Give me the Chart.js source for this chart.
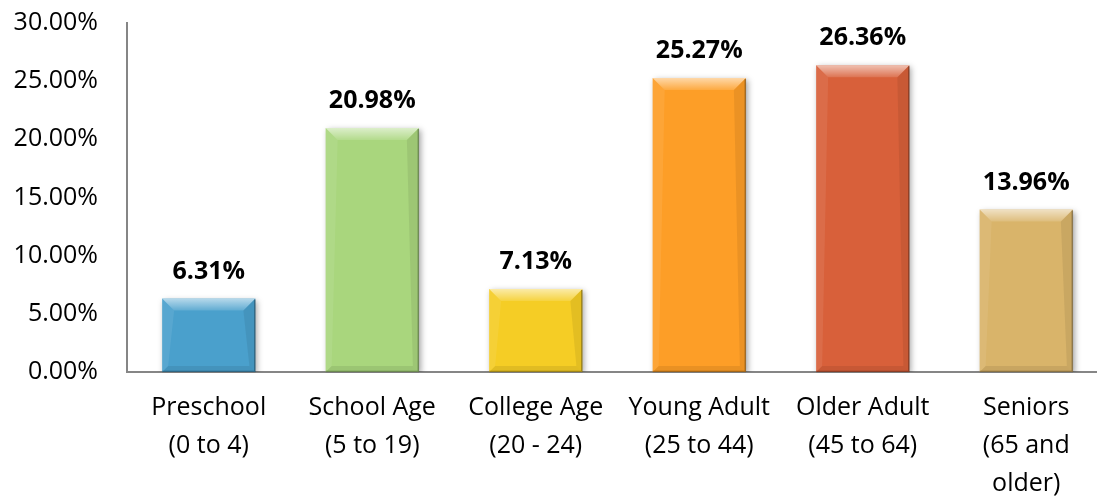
<!DOCTYPE html>
<html>
<head>
<meta charset="utf-8">
<script src="https://cdn.jsdelivr.net/npm/chart.js@4.4.1/dist/chart.umd.min.js"></script>
<style>
    html, body { margin: 0; padding: 0; background: #fff; overflow: hidden; }
    canvas { display: block; }
</style>
</head>
<body>
<canvas id="chart-age" width="1110" height="501"></canvas>
<script>
// Распределение населения по возрастным группам
const categories = [
    ['Preschool', '(0 to 4)'],
    ['School Age', '(5 to 19)'],
    ['College Age', '(20 - 24)'],
    ['Young Adult', '(25 to 44)'],
    ['Older Adult', '(45 to 64)'],
    ['Seniors', '(65 and', 'older)']
];
const shares = [6.31, 20.98, 7.13, 25.27, 26.36, 13.96];
const barColors = ['#4aa0cc', '#a9d67d', '#f5cd25', '#fd9e27', '#d8603a', '#d9b46a'];
const yTicks = [0, 5, 10, 15, 20, 25, 30];

const FONT = '"Open Sans", "Noto Sans", sans-serif';

function formatPct(v) {
    return v.toFixed(2) + '%';
}

// тень под столбцами
const shadowPlugin = {
    id: 'barShadow',
    beforeDatasetsDraw(chart) {
        const ctx = chart.ctx;
        ctx.save();
        ctx.shadowColor = 'rgba(0, 0, 0, 0.35)';
        ctx.shadowBlur = 6;
        ctx.shadowOffsetX = 2;
        ctx.shadowOffsetY = 2;
    },
    afterDatasetsDraw(chart) {
        chart.ctx.restore();
    }
};

// фаска (bevel) и подписи значений
const bevelPlugin = {
    id: 'bevel',
    afterDatasetsDraw(chart) {
        const ctx = chart.ctx;
        const meta = chart.getDatasetMeta(0);
        meta.data.forEach((bar, i) => {
            const { x, y, base, width } = bar.getProps(['x', 'y', 'base', 'width'], true);
            const l = x - width / 2, r = x + width / 2, t = y, b = base;
            const bv = Math.min(12, (b - t) / 3);
            const sv = 6;
            ctx.save();
            // верх
            const g = ctx.createLinearGradient(0, t, 0, t + bv);
            g.addColorStop(0, 'rgba(255,255,255,0.6)');
            g.addColorStop(1, 'rgba(255,255,255,0.12)');
            ctx.fillStyle = g;
            ctx.beginPath();
            ctx.moveTo(l, t); ctx.lineTo(r, t); ctx.lineTo(r - bv, t + bv); ctx.lineTo(l + bv, t + bv);
            ctx.closePath(); ctx.fill();
            // левая грань
            ctx.fillStyle = 'rgba(255,255,255,0.08)';
            ctx.beginPath();
            ctx.moveTo(l, t); ctx.lineTo(l + bv, t + bv); ctx.lineTo(l + sv, b - sv); ctx.lineTo(l, b);
            ctx.closePath(); ctx.fill();
            // правая грань
            ctx.fillStyle = 'rgba(0,0,0,0.07)';
            ctx.beginPath();
            ctx.moveTo(r, t); ctx.lineTo(r - bv, t + bv); ctx.lineTo(r - sv, b - sv); ctx.lineTo(r, b);
            ctx.closePath(); ctx.fill();
            // низ
            ctx.fillStyle = 'rgba(0,0,0,0.08)';
            ctx.beginPath();
            ctx.moveTo(l, b); ctx.lineTo(r, b); ctx.lineTo(r - sv, b - sv); ctx.lineTo(l + sv, b - sv);
            ctx.closePath(); ctx.fill();
            // тёмные кромки справа и снизу
            ctx.strokeStyle = 'rgba(0,0,0,0.3)';
            ctx.lineWidth = 1.5;
            ctx.beginPath();
            ctx.moveTo(r - 0.5, t + 1); ctx.lineTo(r - 0.5, b - 0.5); ctx.lineTo(l, b - 0.5);
            ctx.stroke();
            ctx.restore();

            ctx.save();
            ctx.font = 'bold 25px ' + FONT;
            ctx.fillStyle = '#000';
            ctx.textAlign = 'center';
            ctx.textBaseline = 'alphabetic';
            ctx.fillText(formatPct(shares[i]), x, t - 20);
            ctx.restore();
        });
    }
};

const ctxAge = document.getElementById('chart-age');
new Chart(ctxAge, {
    type: 'bar',
    data: {
        labels: categories,
        datasets: [{
            data: shares,
            backgroundColor: barColors,
            borderWidth: 0,
            barPercentage: 0.57,
            categoryPercentage: 1
        }]
    },
    options: {
        responsive: false,
        animation: false,
        layout: { padding: { top: 23, right: 2, bottom: 0, left: 0 } },
        plugins: { legend: { display: false }, tooltip: { enabled: false } },
        scales: {
            x: {
                grid: { display: false, drawTicks: false },
                border: { display: true, color: '#868686', width: 2 },
                ticks: {
                    color: '#000',
                    font: { family: FONT, size: 25, lineHeight: 1.52 },
                    padding: 17,
                    maxRotation: 0,
                    autoSkip: false
                },
                afterFit(scale) { scale.height = 129; }
            },
            y: {
                min: 0,
                max: 30,
                afterBuildTicks(scale) { scale.ticks = yTicks.map(v => ({ value: v })); },
                grid: { display: false, drawTicks: false },
                border: { display: true, color: '#868686', width: 2 },
                ticks: {
                    color: '#000',
                    font: { family: FONT, size: 25, lineHeight: 1.2 },
                    padding: 29,
                    callback: v => formatPct(v)
                },
                afterFit(scale) {
                    scale.width = 127;
                    scale.paddingTop = 0;
                    scale.paddingBottom = 0;
                }
            }
        }
    },
    plugins: [shadowPlugin, bevelPlugin]
});
</script>
</body>
</html>
